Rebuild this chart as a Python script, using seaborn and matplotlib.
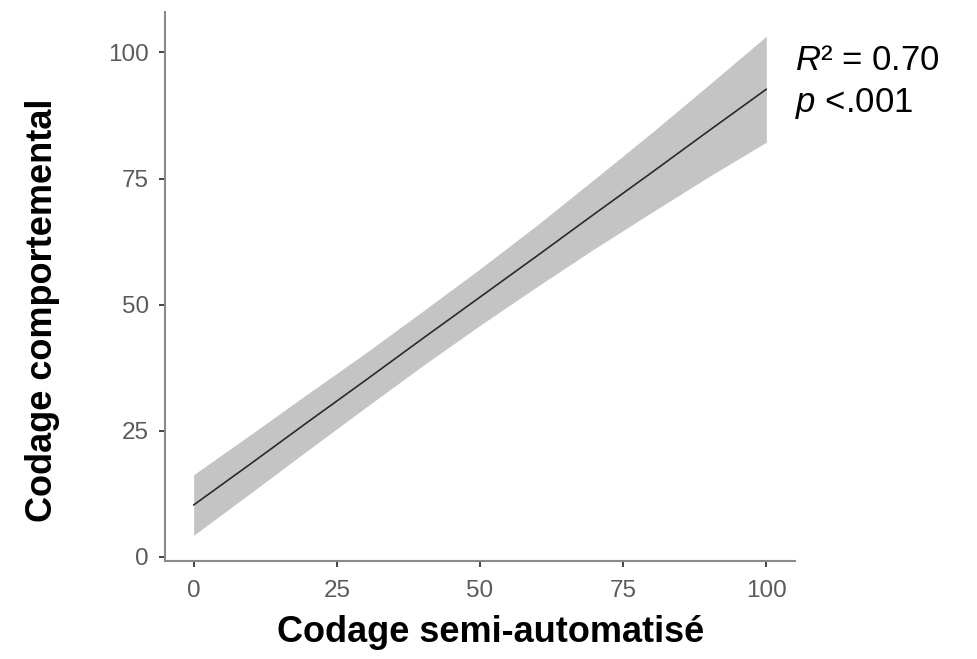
import numpy as np
import pandas as pd
import matplotlib.pyplot as plt
import seaborn as sns

# values
x_vals = [0, 10, 20, 30, 40, 50, 60, 70, 80, 90, 100]
fit_vals = [10.3, 18.5, 26.8, 35.0, 43.3, 51.5, 59.7, 68.0, 76.2, 84.5, 92.7]
ci_low = [4.3, 12.7, 21.2, 29.6, 37.9, 45.9, 53.6, 61.1, 68.3, 75.4, 82.2]
ci_high = [16.3, 24.3, 32.4, 40.4, 48.7, 57.1, 65.8, 74.9, 84.1, 93.6, 103.2]
ticks = [0, 25, 50, 75, 100]

df = pd.DataFrame({"x": x_vals, "fit": fit_vals, "lo": ci_low, "hi": ci_high})

sns.set_style("ticks")
plt.rcParams["font.family"] = ["Liberation Sans", "DejaVu Sans"]
plt.rcParams["mathtext.fontset"] = "custom"
plt.rcParams["mathtext.rm"] = "Liberation Sans"
plt.rcParams["mathtext.it"] = "Liberation Sans:italic"

fig = plt.figure(figsize=(9.77, 6.59), dpi=100)
ax = fig.add_axes([165 / 977, 98 / 659, 630 / 977, 549 / 659])

# confidence band + regression line
ax.fill_between(df["x"], df["lo"], df["hi"], color="#c4c4c4", linewidth=0, zorder=1)
sns.lineplot(data=df, x="x", y="fit", color="#2a2a2a", linewidth=1.2, ax=ax, zorder=2)

ax.set_xlim(-5, 105)
ax.set_ylim(-0.8, 108)
ax.set_xticks(ticks)
ax.set_yticks(ticks)
ax.set_xlabel("")
ax.set_ylabel("")
sns.despine(ax=ax)
for side in ["left", "bottom"]:
    ax.spines[side].set_color("#8a8a8a")
    ax.spines[side].set_linewidth(1.5)
ax.tick_params(axis="both", length=4.5, width=1.4, color="#444444",
               labelsize=17.5, labelcolor="#5a5a5a")
ax.tick_params(axis="y", pad=7)
ax.tick_params(axis="x", pad=9)

fig.text(43 / 977, 1 - 310 / 659, "Codage comportemental", rotation=90,
         ha="center", va="center", fontsize=26, fontweight="bold", color="black")
fig.text(491 / 977, 1 - 632 / 659, "Codage semi-automatisé",
         ha="center", va="center", fontsize=26, fontweight="bold", color="black")

fig.text(795 / 977, 1 - 70 / 659, "$R$² = 0.70", ha="left", va="baseline",
         fontsize=25, color="black")
fig.text(795 / 977, 1 - 112 / 659, "$p$ <.001", ha="left", va="baseline",
         fontsize=25, color="black")

fig.savefig("out.png", dpi=100)
